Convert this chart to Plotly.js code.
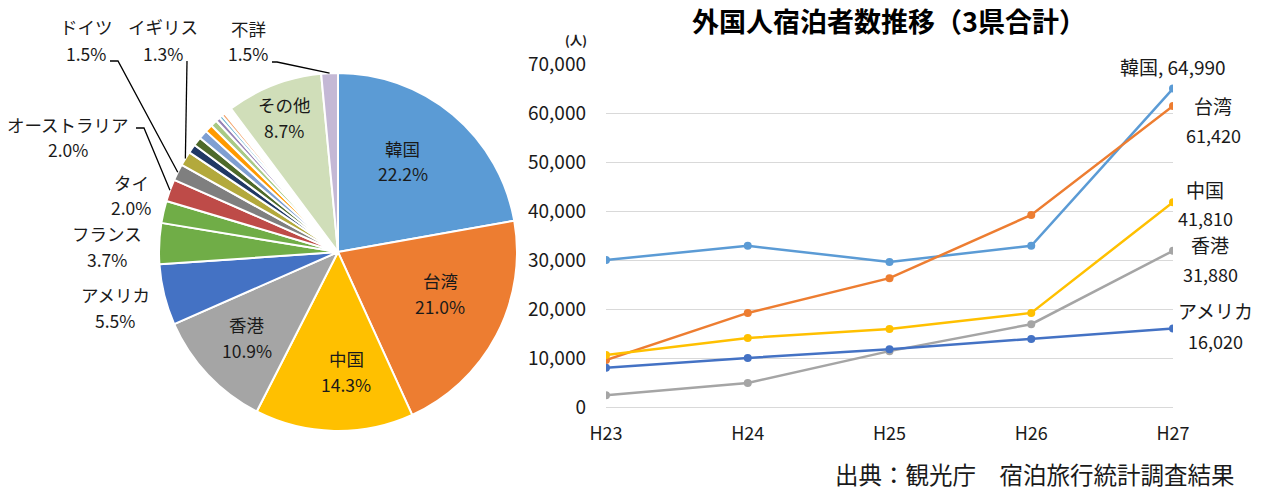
<!DOCTYPE html>
<html>
<head>
<meta charset="utf-8">
<script src="https://cdn.plot.ly/plotly-3.0.1.min.js"></script>
<style>html,body{margin:0;padding:0;background:#fff;}#chart{width:1262px;height:491px;}</style>
</head>
<body>
<div id="chart"></div>
<script>
// ---------- DATA ----------
// Pie: share of foreign overnight guests by country (%)
const pieLabels = ['韓国','台湾','中国','香港','アメリカ','フランス','タイ','オーストラリア','ドイツ','イギリス',
  '国1','国2','国3','国4','国5','国6','国7','国8','国9','国10','国11','国12','国13','国14',
  'その他','不詳'];
const pieValues = [22.2,21.0,14.3,10.9,5.5,3.7,2.0,2.0,1.5,1.3,
  0.8,0.8,0.8,0.7,0.6,0.4,0.3,0.3,0.15,0.15,0.1,0.1,0.1,0.1,
  8.7,1.5];

// Line: overnight guests by year (persons)
const years = ['H23','H24','H25','H26','H27'];
const lineNames = ['韓国','台湾','中国','香港','アメリカ'];
const korea   = [30000,32900,29600,32900,64990];
const taiwan  = [9600,19200,26300,39200,61420];
const china   = [10600,14100,15900,19200,41810];
const hongkong= [2400,4900,11400,16900,31880];
const usa     = [8000,10000,11800,13900,16020];
const lineSeries = [korea,taiwan,china,hongkong,usa];

// ---------- STYLE ----------
const W = 1262, H = 491;
const FONT = 'Noto Sans CJK JP, Noto Sans, sans-serif';
const pieColors = ['#5B9BD5','#ED7D31','#FFC000','#A5A5A5','#4472C4','#70AD47','#70AD47','#BE4B48','#7F7F7F','#B3A93C',
  '#203864','#4E6A2A','#7F9FD2','#FF9A00','#A9C985','#9782B6','#6CB4D0','#F4A872','#E8B4A0','#B4C7E7','#C9BBDD','#F8CBAD','#BDD7EE','#D9D2E9',
  '#D0DEB9','#C4B8D5'];
const lineColors = ['#5B9BD5','#ED7D31','#FFC000','#A5A5A5','#4472C4'];

// pie geometry (pixels)
const pieCx = 338, pieCy = 252, pieR = 179;
const px2x = x => x / W;
const px2y = y => (H - y) / H;

// label positions for pie text (pixel centres of name line)
const pieLabelPos = {
  '韓国':[403,148], '台湾':[440,280], '中国':[346,358], '香港':[247,324],
  'アメリカ':[115,294], 'フランス':[107,233], 'タイ':[131,182], 'オーストラリア':[68,124],
  'ドイツ':[86,27], 'イギリス':[163,27], 'その他':[284,104], '不詳':[248,28]
};
// leader line starts (pixels) for labelled small slices
const leaderStarts = {
  'ドイツ':[[110,61],[118,61]],
  'イギリス':[[187,61]],
  'オーストラリア':[[136,128],[144,128]],
  '不詳':[[272,62],[277,62]]
};

const total = pieValues.reduce((a,b)=>a+b,0);
const annotations = [];
const shapes = [];
let cum = 0;
pieValues.forEach((v,i)=>{
  const mid = (cum + v/2)/total;
  cum += v;
  const name = pieLabels[i];
  const pos = pieLabelPos[name];
  if (pos) {
    annotations.push({xref:'paper',yref:'paper',x:px2x(pos[0]),y:px2y(pos[1]),text:name,showarrow:false,
      xanchor:'center',yanchor:'middle',font:{family:FONT,size:17.5,color:'#1a1a1a'}});
    annotations.push({xref:'paper',yref:'paper',x:px2x(pos[0]),y:px2y(pos[1]+26),text:v.toFixed(1)+'%',showarrow:false,
      xanchor:'center',yanchor:'middle',font:{family:FONT,size:17.5,color:'#1a1a1a'}});
  }
  const ls = leaderStarts[name];
  if (ls) {
    const th = 2*Math.PI*mid;
    const ex = pieCx + pieR*Math.sin(th), ey = pieCy - pieR*Math.cos(th);
    const pts = ls.concat([[ex,ey]]);
    const path = pts.map((p,k)=>(k?'L':'M')+px2x(p[0]).toFixed(5)+','+px2y(p[1]).toFixed(5)).join(' ');
    shapes.push({type:'path',xref:'paper',yref:'paper',path:path,line:{color:'#000',width:1.3}});
  }
});

// line end labels
const endOffsets = [
  {one:true, dx:0, dy:-22},
  {dx:40, dyName:-1, dyVal:29},
  {dx:32, dyName:-13, dyVal:16},
  {dx:37, dyName:-6, dyVal:23},
  {dx:42, dyName:-18, dyVal:12}
];
lineNames.forEach((n,i)=>{
  const v = lineSeries[i][years.length-1];
  const vs = v.toLocaleString('en-US');
  const o = endOffsets[i];
  if (o.one) {
    annotations.push({xref:'x',yref:'y',x:years[years.length-1],y:v,text:n+', '+vs,showarrow:false,
      xshift:o.dx,yshift:-o.dy,xanchor:'center',yanchor:'middle',font:{family:FONT,size:19,color:'#1a1a1a'}});
  } else {
    annotations.push({xref:'x',yref:'y',x:years[years.length-1],y:v,text:n,showarrow:false,
      xshift:o.dx,yshift:-o.dyName,xanchor:'center',yanchor:'middle',font:{family:FONT,size:19,color:'#1a1a1a'}});
    annotations.push({xref:'x',yref:'y',x:years[years.length-1],y:v,text:vs,showarrow:false,
      xshift:o.dx,yshift:-o.dyVal,xanchor:'center',yanchor:'middle',font:{family:FONT,size:18,color:'#1a1a1a'}});
  }
});

annotations.push({xref:'paper',yref:'paper',x:px2x(576),y:px2y(39),text:'(人)',showarrow:false,
  xanchor:'center',yanchor:'middle',font:{family:FONT,size:12.5,weight:700,color:'#1a1a1a'}});
annotations.push({xref:'paper',yref:'paper',x:px2x(1035),y:px2y(474),text:'出典：観光庁　宿泊旅行統計調査結果',showarrow:false,
  xanchor:'center',yanchor:'middle',font:{family:FONT,size:23.5,color:'#1a1a1a'}});

const traces = [{
  type:'pie', labels:pieLabels, values:pieValues, sort:false, direction:'clockwise', rotation:0,
  marker:{colors:pieColors, line:{color:'#ffffff', width:2}},
  textinfo:'none', hoverinfo:'label+percent', showlegend:false,
  domain:{x:[px2x(pieCx-pieR), px2x(pieCx+pieR)], y:[px2y(pieCy+pieR), px2y(pieCy-pieR)]}
}];
lineNames.forEach((n,i)=>{
  traces.push({type:'scatter',mode:'lines+markers',name:n,x:years,y:lineSeries[i],
    line:{color:lineColors[i],width:2.5},marker:{color:lineColors[i],size:8},showlegend:false,
    xaxis:'x',yaxis:'y'});
});

const layout = {
  width:W, height:H, margin:{l:0,r:0,t:0,b:0}, paper_bgcolor:'#fff', plot_bgcolor:'#fff',
  font:{family:FONT,color:'#1a1a1a'},
  title:{text:'外国人宿泊者数推移（3県合計）', x:px2x(889), xanchor:'center', y:px2y(23), yanchor:'middle',
    font:{family:FONT,size:27,weight:700,color:'#000'}},
  xaxis:{type:'category', domain:[px2x(606),px2x(1173)], range:[0,4], showgrid:false, zeroline:false,
    showline:false, ticks:'', tickfont:{family:FONT,size:18,color:'#1a1a1a'}, ticklabelstandoff:14, fixedrange:true},
  yaxis:{domain:[px2y(407),px2y(64)], range:[0,70000], dtick:10000, tickformat:',d', showgrid:true,
    gridcolor:'#D9D9D9', gridwidth:1, zeroline:true, zerolinecolor:'#D9D9D9', zerolinewidth:1, showline:false, ticks:'',
    tickfont:{family:FONT,size:19,color:'#1a1a1a'}, ticklabelstandoff:19, fixedrange:true},
  annotations:annotations, shapes:shapes
};
Plotly.newPlot('chart', traces, layout, {displayModeBar:false, staticPlot:true});
</script>
</body>
</html>
